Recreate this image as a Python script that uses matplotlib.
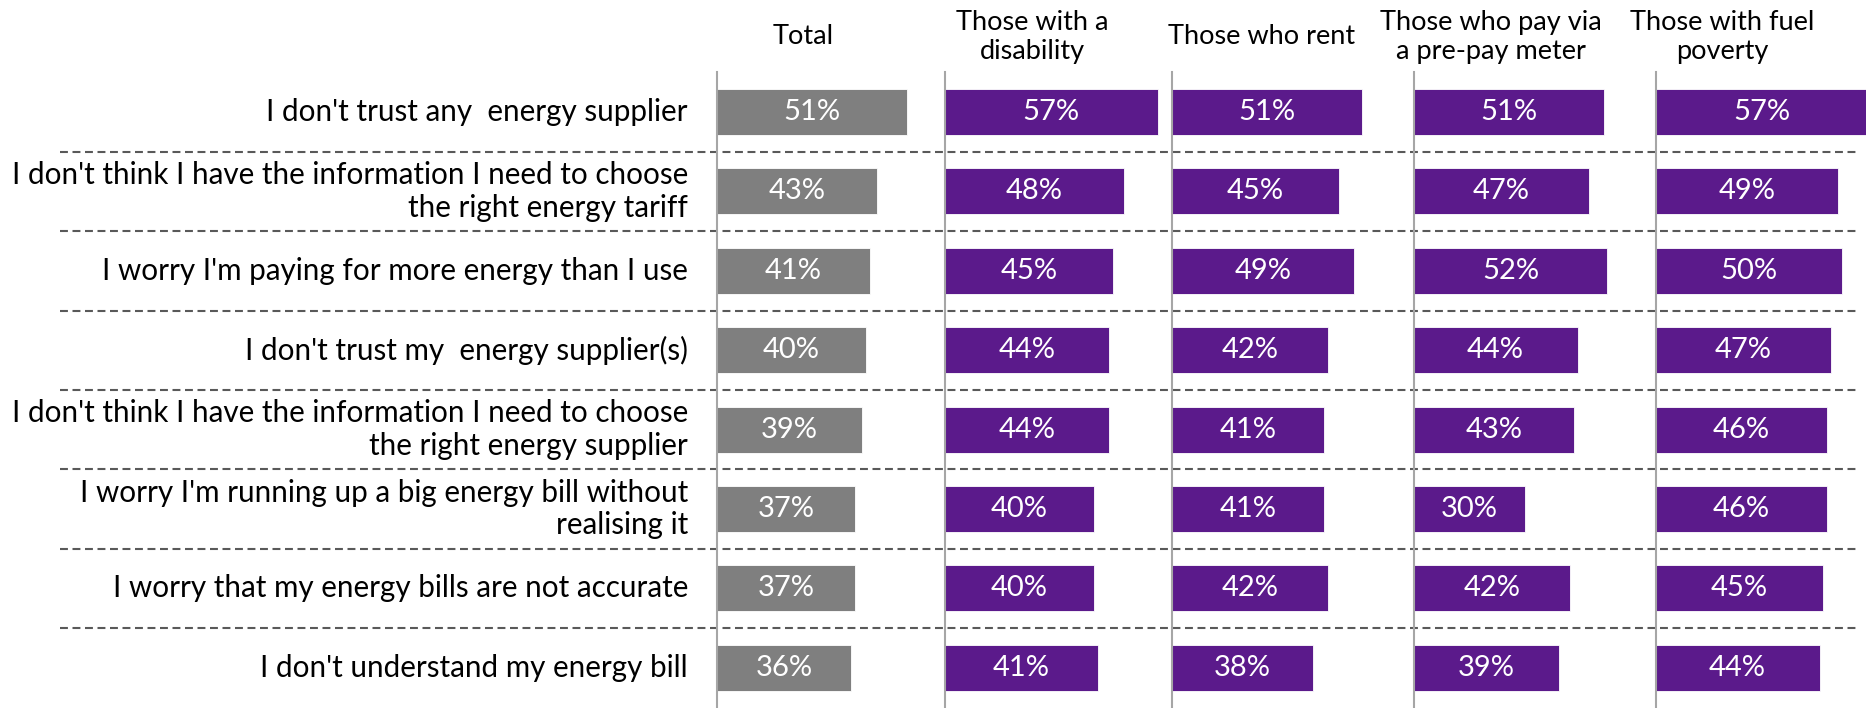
import matplotlib
matplotlib.use("Agg")
import matplotlib.pyplot as plt

plt.rcParams['font.family'] = ['Lato', 'DejaVu Sans']

# data
statements = [
    "I don't trust any  energy supplier",
    "I don't think I have the information I need to choose\nthe right energy tariff",
    "I worry I'm paying for more energy than I use",
    "I don't trust my  energy supplier(s)",
    "I don't think I have the information I need to choose\nthe right energy supplier",
    "I worry I'm running up a big energy bill without\nrealising it",
    "I worry that my energy bills are not accurate",
    "I don't understand my energy bill",
]
groups = ["Total", "Those with a\ndisability", "Those who rent",
          "Those who pay via\na pre-pay meter", "Those with fuel\npoverty"]

total = [51, 43, 41, 40, 39, 37, 37, 36]
disability = [57, 48, 45, 44, 44, 40, 40, 41]
rent = [51, 45, 49, 42, 41, 41, 42, 38]
prepay = [51, 47, 52, 44, 43, 30, 42, 39]
fuel_poverty = [57, 49, 50, 47, 46, 46, 45, 44]

series = [total, disability, rent, prepay, fuel_poverty]
colours = ["#7F7F7F", "#5B1A8B", "#5B1A8B", "#5B1A8B", "#5B1A8B"]

# layout (pixels)
W, H = 1866, 708
top_px = 72.3
px_per_pct = 3.73
panel_left = [717, 945, 1171.5, 1413.5, 1655.5]
panel_width = [222, 222, 236, 236, 211]
title_x = [803, 1032, 1262, 1491, 1722]
y_lim = (7.506, -0.5)
n = len(statements)

fig = plt.figure(figsize=(W / 100, H / 100), dpi=100)

# background axis for separators and labels
bg = fig.add_axes([0, 0, 1, 1 - top_px / H])
bg.set_xlim(0, W)
bg.set_ylim(*y_lim)
bg.axis("off")
for i in range(n - 1):
    bg.plot([60, 1860], [i + 0.5, i + 0.5], color="#595959", lw=1.5,
            dashes=(3.8, 2.2))
for i, s in enumerate(statements):
    bg.text(688, i, s, ha="right", va="center", multialignment="right",
            fontsize=21.3, color="#000000", linespacing=1.2)

for k in range(len(series)):
    ax = fig.add_axes([panel_left[k] / W, 0, panel_width[k] / W, 1 - top_px / H])
    ax.patch.set_alpha(0)
    ax.set_xlim(0, panel_width[k] / px_per_pct)
    ax.set_ylim(*y_lim)
    vals = series[k]
    ax.barh(range(n), vals, height=0.58, color=colours[k],
            edgecolor="#FFFFFF", linewidth=0.6)
    for i, v in enumerate(vals):
        ax.text(v / 2, i, f"{v}%", ha="center", va="center",
                color="white", fontsize=21)
    for side in ["top", "right", "bottom"]:
        ax.spines[side].set_visible(False)
    ax.spines["left"].set_color("#A6A6A6")
    ax.spines["left"].set_linewidth(1.5)
    ax.set_xticks([])
    ax.set_yticks([])
    fig.text(title_x[k] / W, 1 - 37 / H, groups[k], ha="center", va="center",
             fontsize=19.5, color="#000000", linespacing=1.2)

fig.savefig("out.png", dpi=100)
